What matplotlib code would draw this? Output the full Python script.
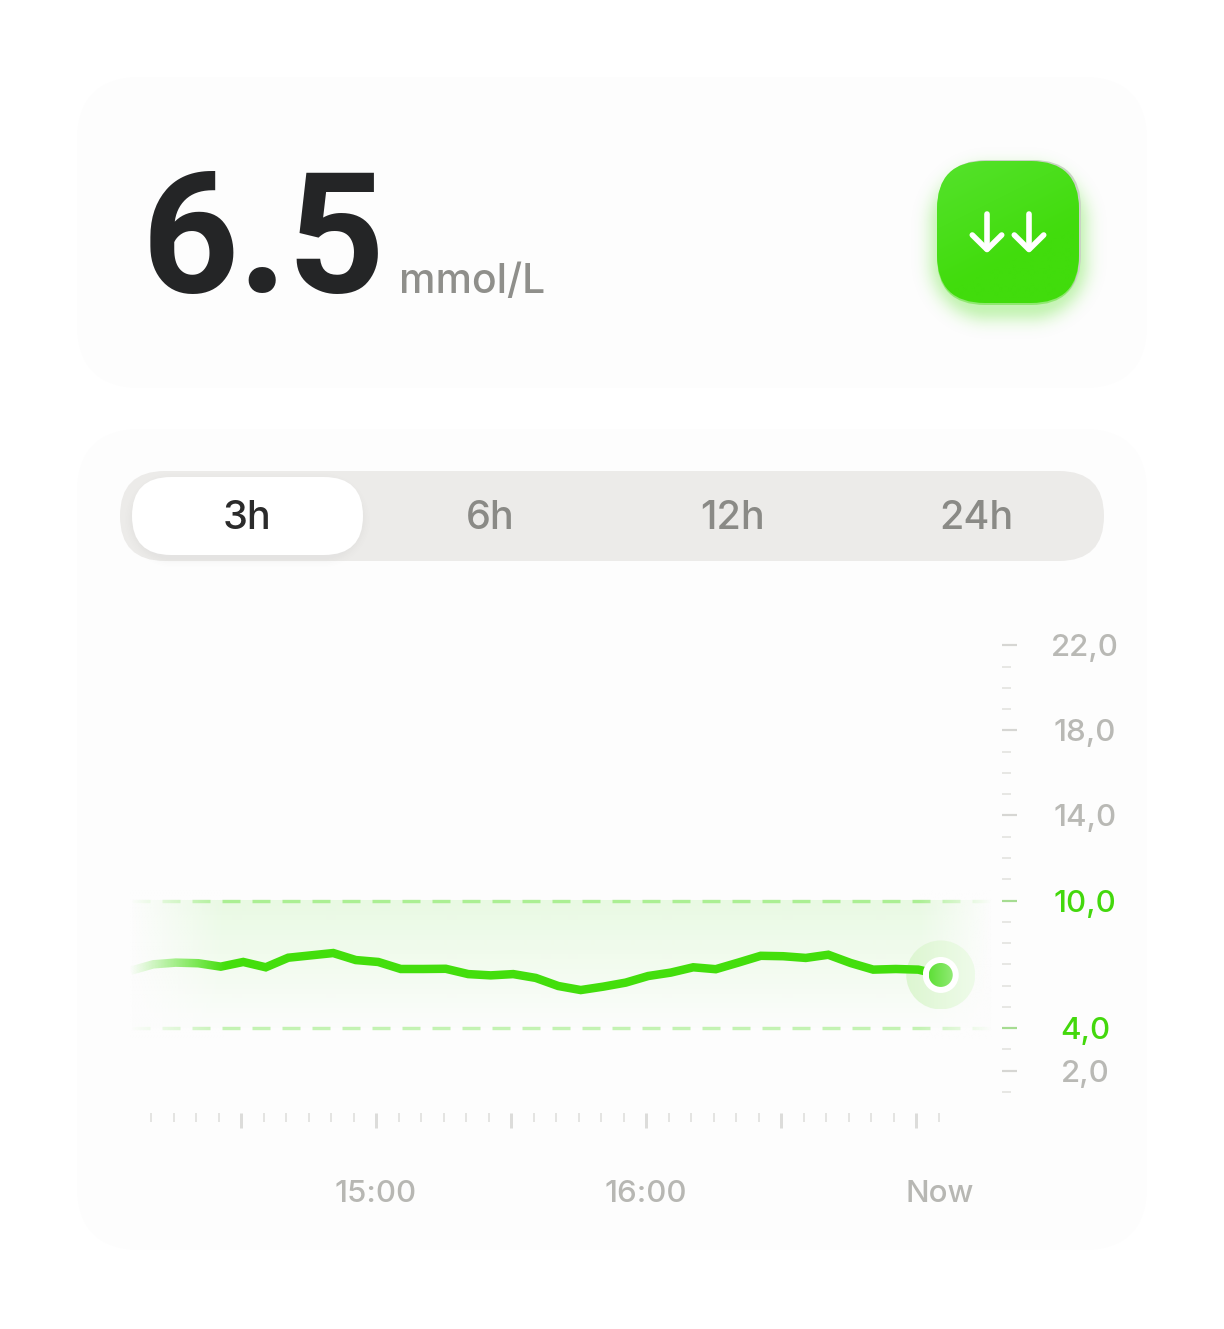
import numpy as np
import matplotlib
matplotlib.use("Agg")
import matplotlib.pyplot as plt
from matplotlib.patches import FancyBboxPatch, Ellipse
from matplotlib.transforms import blended_transform_factory

plt.rcParams['font.family'] = ['Inter', 'DejaVu Sans']
plt.rcParams['lines.scale_dashes'] = False

# ---- data ----
minutes = [-54.5 + 5 * k for k in range(37)]
glucose = [6.70, 7.00, 7.08, 7.05, 6.89, 7.11, 6.86, 7.31, 7.42, 7.53, 7.20, 7.11,
           6.78, 6.78, 6.79, 6.54, 6.48, 6.54, 6.36, 5.98, 5.79, 5.95, 6.14, 6.45,
           6.61, 6.86, 6.77, 7.08, 7.40, 7.38, 7.30, 7.45, 7.06, 6.75, 6.78, 6.75, 6.50]
target_low = 4.0
target_high = 10.0
y_major = [22, 18, 14, 10, 4, 2]
y_labels = ['22,0', '18,0', '14,0', '10,0', '4,0', '2,0']
y_minor = [v for v in range(1, 22) if v not in y_major]
x_major = [-30, 0, 30, 60, 90, 120]
x_minor = [-50, -45, -40, -35, -25, -20, -15, -10, -5, 5, 10, 15, 20, 25, 35, 40, 45, 50, 55,
           65, 70, 75, 80, 85, 95, 100, 105, 110, 115, 125]
x_labels = [(0, '15:00'), (60, '16:00'), (125.3, 'Now')]
ranges = ['3h', '6h', '12h', '24h']
current_value = '6.5'
current_unit = 'mmol/L'

# ---- layout and style ----
W, H = 1224, 1329
PX = 72 / 100
GREEN = '#43de0c'
CARD = '#fdfdfd'
AX_L, AX_R, AX_T, AX_B = 130, 1002, 630, 1113
X0, XS = 376, 4.5
Y10, YS = 900.5, 21.27

fig = plt.figure(figsize=(W / 100, H / 100), dpi=100, facecolor='white')
bg = fig.add_axes([0, 0, 1, 1], zorder=1)
bg.set_xlim(0, W); bg.set_ylim(H, 0); bg.axis('off')


def rbox(ax, l, t, r, b, rad, **kw):
    p = FancyBboxPatch((l + rad, t + rad), r - l - 2 * rad, b - t - 2 * rad,
                       boxstyle=f'round,pad={rad},rounding_size={rad}', linewidth=0, **kw)
    ax.add_patch(p)
    return p


def glow(ax, l, t, r, b, rad, sigma, peak, color, dy=0, z=2):
    m = int(sigma * 3)
    xs = np.arange(l - m, r + m + 1)
    ys = np.arange(t - m + dy, b + m + dy + 1)
    gx, gy = np.meshgrid(xs, ys)
    cx, cy = (l + r) / 2, (t + b) / 2 + dy
    qx = np.abs(gx - cx) - ((r - l) / 2 - rad)
    qy = np.abs(gy - cy) - ((b - t) / 2 - rad)
    d = np.hypot(np.maximum(qx, 0), np.maximum(qy, 0)) + np.minimum(np.maximum(qx, qy), 0) - rad
    a = peak * np.exp(-(np.maximum(d, 0) / sigma) ** 2)
    img = np.zeros(a.shape + (4,))
    img[..., :3] = matplotlib.colors.to_rgb(color)
    img[..., 3] = a
    ax.imshow(img, extent=(xs[0], xs[-1], ys[-1], ys[0]), aspect='auto', zorder=z,
              interpolation='bilinear')


# cards
rbox(bg, 77, 77, 1147, 388, 64, facecolor=CARD, zorder=1)
rbox(bg, 77, 429, 1147, 1250, 64, facecolor=CARD, zorder=1)

# headline
bg.text(142, 292, current_value, fontsize=122, fontweight='semibold', color='#242526',
        family=['Roboto', 'DejaVu Sans'], ha='left', va='baseline', zorder=3)
bg.text(399, 293, current_unit, fontsize=29.5, fontweight='medium', color='#8f8f8b',
        ha='left', va='baseline', zorder=3)

# badge
glow(bg, 942, 170, 1076, 300, 46, 15, 0.30, '#43de0c', dy=8, z=2)
rbox(bg, 939, 160, 1081, 303, 48, facecolor='#c9d2c4', zorder=3)
rbox(bg, 937, 162, 1079, 305, 48, facecolor='#8fe870', zorder=3)
clip = rbox(bg, 937, 161, 1079, 303, 48, facecolor='none', zorder=3)
gx, gy = np.meshgrid(np.linspace(0, 1, 80), np.linspace(0, 1, 80))
t = np.clip((0.5 * gx + gy * 1.0) / 0.95, 0, 1)[..., None]
top = np.array(matplotlib.colors.to_rgb('#55e22c'))
low = np.array(matplotlib.colors.to_rgb('#41dc0c'))
im = bg.imshow(top * (1 - t) + low * t, extent=(937, 1079, 303, 161), aspect='auto', zorder=4,
               interpolation='bilinear')
im.set_clip_path(clip)
for ax_x in (987, 1029):
    bg.plot([ax_x, ax_x], [214, 249], color='white', lw=5.6 * PX, solid_capstyle='round', zorder=5)
    bg.plot([ax_x - 14.7, ax_x, ax_x + 14.7], [235, 249.5, 235], color='white', lw=5.6 * PX,
            solid_capstyle='round', solid_joinstyle='round', zorder=5)

# segmented control
rbox(bg, 120, 471, 1104, 561, 45, facecolor='#ecebe9', zorder=2)
glow(bg, 134, 480, 361, 556, 38, 6, 0.05, '#555555', dy=2, z=3)
rbox(bg, 132, 477, 363, 555, 39, facecolor='white', zorder=4)
for name, cx, col in zip(ranges, (247, 490, 733, 976), ('#2b2b2b', '#8a8a86', '#8a8a86', '#8a8a86')):
    bg.text(cx, 529, name, fontsize=28.5, fontweight='medium', color=col, ha='center',
            va='baseline', zorder=5)
bg.set_xlim(0, W); bg.set_ylim(H, 0)

# ---- chart ----
ax = fig.add_axes([AX_L / W, 1 - AX_B / H, (AX_R - AX_L) / W, (AX_B - AX_T) / H], zorder=2)
ax.patch.set_alpha(0)
xlim = ((AX_L - X0) / XS, (AX_R - X0) / XS)
ylim = (target_high - (AX_B - Y10) / YS, target_high - (AX_T - Y10) / YS)
for s in ax.spines.values():
    s.set_visible(False)

# target band
band_x = ((131.7 - X0) / XS, (990 - X0) / XS)
va = np.linspace(0.11, 0.008, 128)[:, None, None]
rgba = np.zeros((128, 1, 4))
rgba[..., :3] = matplotlib.colors.to_rgb(GREEN)
rgba[..., 3:] = va
ax.imshow(rgba, extent=(band_x[0], band_x[1], target_low, target_high), aspect='auto', zorder=1,
          interpolation='bilinear', origin='upper')
ax.plot(band_x, [target_high] * 2, color=GREEN, alpha=0.37, lw=3.4 * PX,
        linestyle=(0, (18 * PX, 12 * PX)), dash_capstyle='butt', zorder=2)
ax.plot(band_x, [target_low] * 2, color=GREEN, alpha=0.30, lw=3.4 * PX,
        linestyle=(0, (18 * PX, 12 * PX)), dash_capstyle='butt', zorder=2)

# reading
ax.plot(minutes, glucose, color=GREEN, lw=8.5 * PX, solid_joinstyle='miter', solid_capstyle='butt', zorder=3)


# edge fades in the card colour
def fade(x_from, x_to, a_from, a_to, z):
    n = 128
    img = np.zeros((1, n, 4))
    img[..., :3] = matplotlib.colors.to_rgb(CARD)
    img[..., 3] = np.linspace(a_from, a_to, n)
    ax.imshow(img, extent=((x_from - X0) / XS, (x_to - X0) / XS, 3.5, 10.5), aspect='auto', zorder=z,
              interpolation='bilinear')


fade(130, 226, 1.0, 0.0, 4)
fade(918, 992, 0.0, 1.0, 2.5)


# end point
def disc(rad_px, c_left, c_right, alpha, z):
    cx, cy = minutes[-1], glucose[-1]
    rx, ry = rad_px / XS, rad_px / YS
    e = Ellipse((cx, cy), 2 * rx, 2 * ry, facecolor='none', edgecolor='none', transform=ax.transData)
    ax.add_patch(e)
    t = np.linspace(0, 1, 64)[None, :, None]
    a = np.array(matplotlib.colors.to_rgb(c_left))
    b = np.array(matplotlib.colors.to_rgb(c_right))
    rgb = a * (1 - t) + b * t
    img = np.concatenate([rgb, np.full(rgb.shape[:2] + (1,), alpha)], axis=2)
    i = ax.imshow(img, extent=(cx - rx, cx + rx, cy - ry, cy + ry), aspect='auto', zorder=z,
                  interpolation='bilinear')
    i.set_clip_path(e)


disc(34.5, '#ddf6d1', '#eefbe9', 1.0, 2.8)
disc(18, '#ffffff', '#ffffff', 1.0, 6)
disc(12, '#5fdf38', '#90ea74', 1.0, 7)

ax.set_xlim(*xlim)
ax.set_ylim(*ylim)

# axes ticks
ax.yaxis.tick_right()
ax.set_yticks(y_major, y_labels)
ax.set_yticks(y_minor, minor=True)
ax.set_xticks(x_major, [''] * len(x_major))
ax.set_xticks(x_minor, minor=True)
ax.tick_params(axis='y', which='major', length=15 * PX, width=2.2 * PX, color='#d6d6d3',
               pad=68 * PX, labelsize=22.5, labelcolor='#b9b9b5', direction='out')
ax.tick_params(axis='y', which='minor', length=9 * PX, width=1.6 * PX, color='#e2e2df', direction='out')
ax.tick_params(axis='x', which='major', length=15 * PX, width=3 * PX, color='#dcdcda', direction='out')
ax.tick_params(axis='x', which='minor', length=8.5 * PX, width=1.7 * PX, color='#e0e0de', direction='out')
for val, tick, lab in zip(y_major, ax.yaxis.get_major_ticks(), ax.get_yticklabels()):
    lab.set_ha('center')
    lab.set_fontweight('medium')
    if val in (target_low, target_high):
        tick.tick2line.set_markeredgecolor('#a6dc92')
        lab.set_color('#43d80c')

tr = blended_transform_factory(ax.transData, bg.transData)
for xv, lab in x_labels:
    ax.text(xv, 1194, lab, transform=tr, fontsize=22.5, fontweight='medium', color='#b7b7b3',
            ha='center', va='center', clip_on=False)

fig.savefig('out.png', dpi=100, facecolor='white')
